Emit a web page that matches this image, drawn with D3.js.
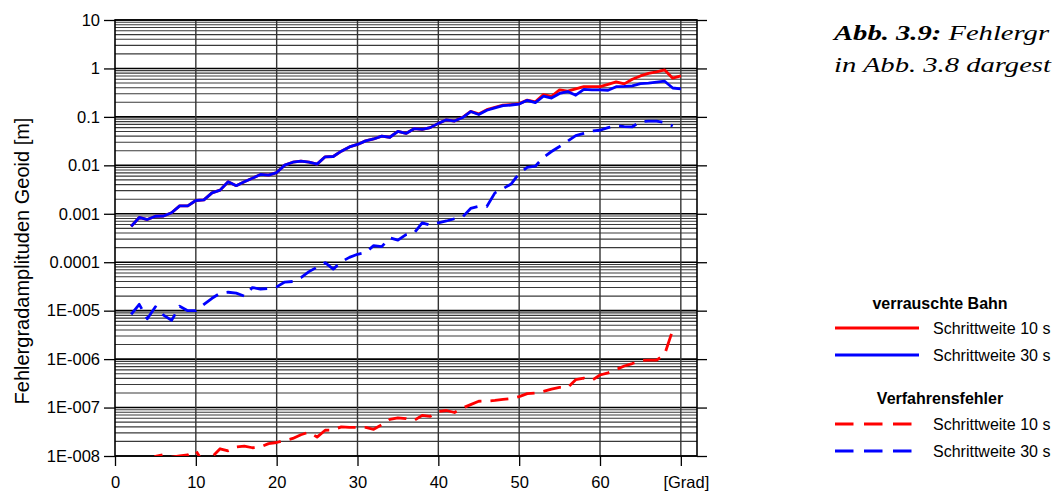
<!DOCTYPE html>
<html>
<head>
<meta charset="utf-8">
<script src="https://cdn.jsdelivr.net/npm/d3@7"></script>
<style>
  html, body { margin: 0; padding: 0; background: #ffffff; overflow: hidden; }
  svg { display: block; }
</style>
</head>
<body>
<svg id="chart" width="1054" height="497"></svg>
<script>
// Spherical-harmonic degree of each error amplitude
const degrees = [2,3,4,5,6,7,8,9,10,11,12,13,14,15,16,17,18,19,20,21,22,23,24,25,26,27,28,29,30,
  31,32,33,34,35,36,37,38,39,40,41,42,43,44,45,46,47,48,49,50,51,52,53,54,55,56,57,58,59,60,
  61,62,63,64,65,66,67,68,69,70];

// verrauschte Bahn, Schrittweite 10 s
const noisy10 = [5.5e-4,8.4e-4,7.6e-4,8.9e-4,9.0e-4,1.05e-3,1.46e-3,1.46e-3,1.88e-3,1.94e-3,
  2.7e-3,3.08e-3,4.6e-3,3.8e-3,4.6e-3,5.4e-3,6.5e-3,6.3e-3,7.1e-3,0.0101,0.0116,0.0122,0.0116,
  0.0106,0.015,0.0152,0.0196,0.024,0.027,0.032,0.035,0.040,0.038,0.050,0.0455,0.057,0.055,0.060,
  0.0735,0.087,0.082,0.098,0.13,0.115,0.141,0.158,0.175,0.18,0.188,0.222,0.205,0.29,0.265,0.36,
  0.34,0.38,0.42,0.42,0.42,0.47,0.53,0.48,0.60,0.70,0.79,0.85,0.93,0.63,0.70];

// verrauschte Bahn, Schrittweite 30 s
const noisy30 = [5.5e-4,8.4e-4,7.6e-4,8.9e-4,9.0e-4,1.05e-3,1.46e-3,1.46e-3,1.88e-3,1.94e-3,
  2.7e-3,3.08e-3,4.6e-3,3.8e-3,4.6e-3,5.4e-3,6.5e-3,6.3e-3,7.1e-3,0.0101,0.0116,0.0122,0.0116,
  0.0106,0.015,0.0152,0.0196,0.024,0.027,0.032,0.035,0.040,0.038,0.050,0.0455,0.057,0.055,0.060,
  0.0735,0.087,0.082,0.097,0.129,0.112,0.137,0.154,0.17,0.176,0.184,0.22,0.197,0.267,0.245,0.305,
  0.333,0.28,0.37,0.36,0.36,0.355,0.42,0.425,0.435,0.485,0.50,0.52,0.545,0.395,0.378];

// Verfahrensfehler, Schrittweite 10 s
const method10 = [null,null,7e-9,9.8e-9,1.07e-8,9.5e-9,1.0e-8,1.05e-8,1.29e-8,7e-9,9.5e-9,
  1.41e-8,1.28e-8,1.53e-8,1.6e-8,1.48e-8,1.53e-8,1.8e-8,1.9e-8,2.1e-8,2.3e-8,2.75e-8,3.1e-8,
  2.45e-8,3.4e-8,3.45e-8,4.0e-8,3.9e-8,3.9e-8,3.9e-8,3.55e-8,4.4e-8,5.7e-8,6.1e-8,5.9e-8,5.4e-8,
  6.9e-8,6.6e-8,8.3e-8,8.7e-8,7.9e-8,9.8e-8,1.15e-7,1.35e-7,1.36e-7,1.4e-7,1.47e-7,1.53e-7,
  1.68e-7,1.94e-7,2.0e-7,2.15e-7,2.4e-7,2.6e-7,2.6e-7,3.77e-7,4.05e-7,3.65e-7,4.7e-7,5.2e-7,
  6.1e-7,7.2e-7,8.1e-7,9.4e-7,9.5e-7,9.5e-7,1.26e-6,4.0e-6,null];

// Verfahrensfehler, Schrittweite 30 s
const method30 = [8.4e-6,1.35e-5,6.8e-6,1.2e-5,8.1e-6,6.3e-6,1.23e-5,1.0e-5,1.0e-5,1.35e-5,
  1.8e-5,2.3e-5,2.4e-5,2.3e-5,2.0e-5,3.0e-5,2.8e-5,2.85e-5,3.1e-5,3.9e-5,4.0e-5,4.8e-5,6.4e-5,
  7.9e-5,9.8e-5,7.2e-5,1.02e-4,1.26e-4,1.46e-4,1.58e-4,2.2e-4,2.1e-4,3.2e-4,2.85e-4,3.7e-4,
  4.0e-4,6.5e-4,5.8e-4,6.5e-4,7.1e-4,7.9e-4,8.6e-4,1.29e-3,1.42e-3,1.41e-3,2.7e-3,3.3e-3,4.1e-3,
  6.8e-3,9.1e-3,9.6e-3,0.0146,0.0193,0.0245,0.0316,0.041,0.0457,0.051,0.053,0.06,0.066,0.063,
  0.0625,0.08,0.082,0.082,0.077,0.065,null];

// Axis ticks
const yTickValues = [10,1,0.1,0.01,0.001,0.0001,1e-5,1e-6,1e-7,1e-8];
const yTickLabels = ["10","1","0.1","0.01","0.001","0.0001","1E-005","1E-006","1E-007","1E-008"];
const xTickValues = [0,10,20,30,40,50,60,70];
const xTickLabels = ["0","10","20","30","40","50","60","[Grad]"];

// Legend entries
const legendGroups = ["verrauschte Bahn","Verfahrensfehler"];
const legendLabels = ["Schrittweite 10 s","Schrittweite 30 s"];

// Caption lines (the visible start of the figure caption)
const captionLead = "Abb. 3.9:";
const captionLines = [" Fehlergr", "in Abb. 3.8 dargest"];

const svg = d3.select("#chart");
const plot = { left: 115, right: 697, top: 20, bottom: 456 };

const x = d3.scaleLinear().domain([0, 72]).range([plot.left, plot.right]);
const y = d3.scaleLog().domain([1e-8, 10]).range([plot.bottom, plot.top]);

const FONT = "'Liberation Sans', Arial, Helvetica, sans-serif";

// Grid: minor log lines, decade lines, vertical lines every 10 degrees
const grid = svg.append("g");
const minor = [];
for (let e = -8; e <= 0; e++) for (let m = 2; m <= 9; m++) minor.push(m * Math.pow(10, e));
grid.selectAll("line.minor").data(minor).join("line").attr("class", "minor")
  .attr("x1", plot.left).attr("x2", plot.right)
  .attr("y1", d => y(d)).attr("y2", d => y(d))
  .attr("stroke", "#3a3a3a").attr("stroke-width", 1.1);
grid.selectAll("line.major").data(yTickValues).join("line").attr("class", "major")
  .attr("x1", plot.left).attr("x2", plot.right)
  .attr("y1", d => y(d)).attr("y2", d => y(d))
  .attr("stroke", "#000").attr("stroke-width", 1.6);
grid.selectAll("line.vert").data(xTickValues.slice(1)).join("line").attr("class", "vert")
  .attr("x1", d => x(d)).attr("x2", d => x(d))
  .attr("y1", plot.top).attr("y2", plot.bottom)
  .attr("stroke", "#333").attr("stroke-width", 1.4);

// Axes
function styleAxis(g) {
  g.select(".domain").remove();
  g.selectAll(".tick line").attr("stroke", "#000").attr("stroke-width", 1.3);
  g.selectAll(".tick text").attr("fill", "#000").attr("font-family", FONT);
}
svg.append("g").attr("transform", `translate(${plot.left},0)`)
  .call(d3.axisLeft(y).tickValues(yTickValues).tickFormat((d, i) => yTickLabels[i])
    .tickSize(11).tickPadding(4))
  .call(styleAxis)
  .selectAll(".tick text").attr("font-size", 16.5);
svg.append("g").attr("transform", `translate(${plot.right},0)`)
  .call(d3.axisRight(y).tickValues(yTickValues).tickFormat("").tickSize(10))
  .call(styleAxis);
const xAxis = svg.append("g").attr("transform", `translate(0,${plot.bottom})`)
  .call(d3.axisBottom(x).tickValues(xTickValues).tickFormat((d, i) => xTickLabels[i])
    .tickSize(10).tickPadding(10))
  .call(styleAxis);
xAxis.selectAll(".tick text").attr("font-size", 16.5)
  .attr("dx", (d, i) => xTickLabels[i].startsWith("[") ? 5 : 0);

// Frame
svg.append("rect").attr("x", plot.left).attr("y", plot.top)
  .attr("width", plot.right - plot.left).attr("height", plot.bottom - plot.top)
  .attr("fill", "none").attr("stroke", "#000").attr("stroke-width", 1.6);

// Y axis title
svg.append("text")
  .attr("transform", "translate(29,261) rotate(-90)")
  .attr("text-anchor", "middle")
  .attr("font-family", FONT).attr("font-size", 20)
  .text("Fehlergradamplituden Geoid [m]");

// Curves
svg.append("clipPath").attr("id", "plotClip")
  .append("rect").attr("x", plot.left).attr("y", plot.top)
  .attr("width", plot.right - plot.left).attr("height", plot.bottom - plot.top);

const series = [
  { values: method10, color: "#ff0000", dash: "18,9" },
  { values: method30, color: "#0000ff", dash: "18,9" },
  { values: noisy10, color: "#ff0000", dash: null },
  { values: noisy30, color: "#0000ff", dash: null }
];
const line = d3.line()
  .defined(d => d.v != null)
  .x(d => x(d.deg)).y(d => y(d.v));
const curves = svg.append("g").attr("clip-path", "url(#plotClip)");
series.forEach(s => {
  curves.append("path")
    .datum(degrees.map((deg, i) => ({ deg, v: s.values[i] })))
    .attr("d", line)
    .attr("fill", "none")
    .attr("stroke", s.color)
    .attr("stroke-width", 2.8)
    .attr("stroke-linejoin", "round")
    .attr("stroke-dasharray", s.dash);
});

// Legend
const legend = svg.append("g").attr("font-family", FONT).attr("font-size", 16).attr("fill", "#000");
const legendRows = [
  { title: legendGroups[0], ty: 303, items: [
    { label: legendLabels[0], color: "#ff0000", dash: null, y: 328 },
    { label: legendLabels[1], color: "#0000ff", dash: null, y: 355 } ] },
  { title: legendGroups[1], ty: 398, items: [
    { label: legendLabels[0], color: "#ff0000", dash: "18.5,10.5", y: 424 },
    { label: legendLabels[1], color: "#0000ff", dash: "18.5,10.5", y: 451 } ] }
];
legendRows.forEach(g => {
  legend.append("text").attr("x", 940).attr("y", g.ty).attr("dy", "0.35em")
    .attr("text-anchor", "middle").attr("font-weight", "bold").text(g.title);
  g.items.forEach(it => {
    legend.append("line").attr("x1", 835).attr("x2", it.dash ? 914 : 919)
      .attr("y1", it.y).attr("y2", it.y)
      .attr("stroke", it.color).attr("stroke-width", 2.8)
      .attr("stroke-dasharray", it.dash);
    legend.append("text").attr("x", 933).attr("y", it.y).attr("dy", "0.35em").text(it.label);
  });
});

// Figure caption, set in a wide italic serif
const caption = svg.append("g")
  .attr("font-family", "'Liberation Serif', 'Times New Roman', serif")
  .attr("font-size", 21.5).attr("font-style", "italic").attr("fill", "#000");
const cap1 = caption.append("text").attr("y", 40);
cap1.append("tspan").attr("font-weight", "bold").text(captionLead);
cap1.append("tspan").text(captionLines[0]);
caption.append("text").attr("y", 72).text(captionLines[1]);

// Widen the glyphs, but never past the right page edge
let widest = 0;
caption.selectAll("text").each(function () { widest = Math.max(widest, this.getComputedTextLength()); });
const stretch = Math.min(1.36, (1051 - 834) / widest);
caption.attr("transform", `translate(834,0) scale(${stretch},1)`);
</script>
</body>
</html>
